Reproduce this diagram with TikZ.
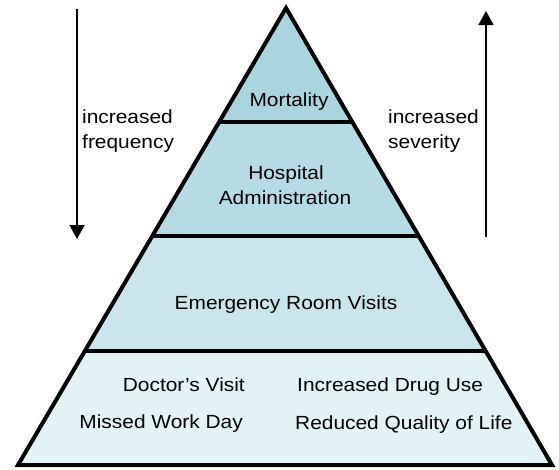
\documentclass[tikz,border=0pt]{standalone}
\usepackage{fontspec}
\setmainfont{Liberation Sans}[FakeStretch=1.1]
\usetikzlibrary{arrows.meta}
\definecolor{tierA}{HTML}{ABD5DE}
\definecolor{tierB}{HTML}{B6DBE4}
\definecolor{tierC}{HTML}{CAE6EC}
\definecolor{tierD}{HTML}{E3F2F5}
\tikzset{
  label/.style={inner sep=0pt, font=\fontsize{19}{24}\selectfont},
  tierline/.style={line width=4pt, line join=miter},
  trend/.style={line width=1.6pt, -{Triangle[width=15pt,length=14pt]}}
}
\begin{document}
\begin{tikzpicture}[x=1pt,y=-1pt]
\useasboundingbox (0,0) rectangle (559,469);
% pyramid corners and tier boundaries
\coordinate (apex) at (286,8);
\coordinate (bl) at (18,465);
\coordinate (br) at (552,465);
\path (apex) -- (bl) coordinate[pos=0.2495] (l1) coordinate[pos=0.4989] (l2) coordinate[pos=0.7505] (l3);
\path (apex) -- (br) coordinate[pos=0.2495] (r1) coordinate[pos=0.4989] (r2) coordinate[pos=0.7505] (r3);
% tier fills
\fill[tierA] (apex) -- (l1) -- (r1) -- cycle;
\fill[tierB] (l1) -- (l2) -- (r2) -- (r1) -- cycle;
\fill[tierC] (l2) -- (l3) -- (r3) -- (r2) -- cycle;
\fill[tierD] (l3) -- (bl) -- (br) -- (r3) -- cycle;
% outline and dividers
\draw[tierline] (apex) -- (bl) -- (br) -- cycle;
\draw[tierline] (l1) -- (r1);
\draw[tierline] (l2) -- (r2);
\draw[tierline] (l3) -- (r3);
% tier labels
\node[label, anchor=base] (mort) at (289,106) {Mortality};
\node[label, anchor=base] (hosp) at (286,179) {Hospital};
\node[label, anchor=base] (admin) at (285,204) {Administration};
\node[label, anchor=base] (er) at (286,309) {Emergency Room Visits};
\node[label, anchor=base east] (doc) at (245,391) {Doctor's Visit};
\node[label, anchor=base east] (miss) at (243,428) {Missed Work Day};
\node[label, anchor=base west] (drug) at (297,391) {Increased Drug Use};
\node[label, anchor=base west] (qol) at (295,429) {Reduced Quality of Life};
% side trends
\coordinate (freqtop) at (77,9);
\coordinate (freqbot) at (77,239);
\coordinate (sevbot) at (486,237);
\coordinate (sevtop) at (486,11);
\draw[trend] (freqtop) -- (freqbot);
\draw[trend] (sevbot) -- (sevtop);
\node[label, anchor=base west] (freq1) at (82,123) {increased};
\node[label, anchor=base west] (freq2) at (82,148) {frequency};
\node[label, anchor=base west] (sev1) at (388,123) {increased};
\node[label, anchor=base west] (sev2) at (388,148) {severity};
\end{tikzpicture}
\end{document}
